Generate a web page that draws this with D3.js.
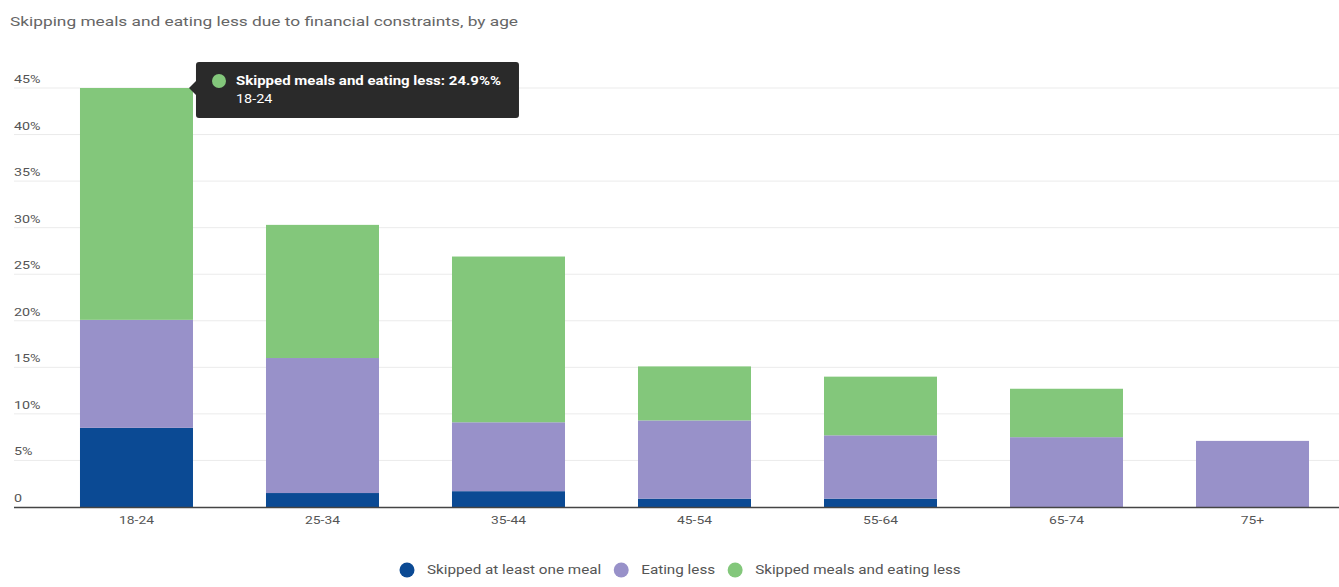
<!DOCTYPE html>
<html>
<head>
<meta charset="utf-8">
<script src="https://cdn.jsdelivr.net/npm/d3@7"></script>
<style>
  body { margin: 0; background: #fff; font-family: Roboto, "Noto Sans", sans-serif; }
</style>
</head>
<body>
<svg id="chart" width="1339" height="587"></svg>
<script>
// data
var ages = ["18-24", "25-34", "35-44", "45-54", "55-64", "65-74", "75+"];
var skippedMeal = [8.5, 1.5, 1.7, 0.9, 0.9, 0, 0];
var eatingLess = [11.6, 14.5, 7.4, 8.4, 6.8, 7.5, 7.1];
var skippedAndLess = [24.9, 14.3, 17.8, 5.8, 6.3, 5.2, 0];
var seriesNames = ["Skipped at least one meal", "Eating less", "Skipped meals and eating less"];
var yTicks = [0, 5, 10, 15, 20, 25, 30, 35, 40, 45];

var colors = ["#0b4a94", "#9891c9", "#83c77b"];

const width = 1339;
const height = 587;
const margin = {top: 88, bottom: 80, left: 14, right: 0};

var svg = d3.select("#chart");

// the source text is drawn wide, stretch glyphs to match
function stretch(sel, f) {
	sel.each(function() {
		var w = this.getComputedTextLength();
		d3.select(this)
			.attr("textLength", w * f)
			.attr("lengthAdjust", "spacingAndGlyphs");
	});
}

// title
svg.append("text")
	.attr("x", 10)
	.attr("y", 26)
	.attr("fill", "#666")
	.attr("font-size", 13)
	.text("Skipping meals and eating less due to financial constraints, by age")
	.call(stretch, 1.33);

var rows = ages.map(function(a, i) {
	return {age: a, s0: skippedMeal[i], s1: eatingLess[i], s2: skippedAndLess[i]};
});
var stacked = d3.stack().keys(["s0", "s1", "s2"])(rows);

var x = d3.scaleBand()
	.domain(ages)
	.range([margin.left, width - margin.right])
	.paddingInner(0.3925)
	.paddingOuter(0.258)
	.align(0.6875);

var y = d3.scaleLinear()
	.domain([0, 45])
	.range([height - margin.bottom, margin.top]);

// gridlines + y labels
var grid = svg.append("g");
grid.selectAll("line")
	.data(yTicks.slice(1))
	.enter().append("line")
		.attr("x1", margin.left)
		.attr("x2", width)
		.attr("y1", d => y(d))
		.attr("y2", d => y(d))
		.attr("stroke", "#ebebeb")
		.attr("stroke-width", 1);
grid.selectAll("text")
	.data(yTicks)
	.enter().append("text")
		.attr("x", 14)
		.attr("y", d => y(d) - 5)
		.attr("fill", "#555")
		.attr("font-size", 11)
		.text(d => d === 0 ? "0" : d + "%")
		.call(stretch, 1.3);

// bars
svg.append("g").selectAll("g")
	.data(stacked)
	.enter().append("g")
		.attr("fill", (d, i) => colors[i])
	.selectAll("rect")
	.data(d => d)
	.enter().append("rect")
		.attr("x", d => x(d.data.age))
		.attr("width", x.bandwidth())
		.attr("y", d => y(d[1]))
		.attr("height", d => y(d[0]) - y(d[1]));

// baseline
svg.append("line")
	.attr("x1", margin.left)
	.attr("x2", width)
	.attr("y1", y(0) + 0.5)
	.attr("y2", y(0) + 0.5)
	.attr("stroke", "#444")
	.attr("stroke-width", 1.5);

// x axis labels
var xAxis = d3.axisBottom(x).tickSize(0).tickPadding(9);
svg.append("g")
	.attr("transform", "translate(0," + y(0) + ")")
	.call(xAxis)
	.call(g => g.select(".domain").remove())
	.selectAll("text")
		.attr("fill", "#555")
		.attr("font-size", 11)
		.attr("font-family", "Roboto, sans-serif")
		.call(stretch, 1.26);

// legend
var legend = svg.append("g").attr("transform", "translate(0,570)");
var lx = 407;
seriesNames.forEach(function(name, i) {
	legend.append("circle")
		.attr("cx", lx)
		.attr("r", 7.5)
		.attr("fill", colors[i]);
	var t = legend.append("text")
		.attr("x", lx + 20)
		.attr("y", 4)
		.attr("fill", "#555")
		.attr("font-size", 12)
		.text(name)
		.call(stretch, 1.27);
	lx = lx + 20 + +t.attr("textLength") + 20;
});

// tooltip on 18-24 top segment
var tipX = x(ages[0]) + x.bandwidth() + 3;
var tipY = y(45);
var tip = svg.append("g");
tip.append("rect")
	.attr("x", tipX)
	.attr("y", tipY - 26)
	.attr("width", 323)
	.attr("height", 56)
	.attr("rx", 3)
	.attr("fill", "#2a2a2a");
tip.append("path")
	.attr("d", "M" + tipX + "," + (tipY - 7) + "L" + (tipX - 7) + "," + tipY + "L" + tipX + "," + (tipY + 7) + "Z")
	.attr("fill", "#2a2a2a");
tip.append("circle")
	.attr("cx", tipX + 23)
	.attr("cy", tipY - 7)
	.attr("r", 7)
	.attr("fill", colors[2]);
tip.append("text")
	.attr("x", tipX + 40)
	.attr("y", tipY - 3)
	.attr("fill", "#fff")
	.attr("font-size", 12)
	.attr("font-weight", "bold")
	.text(seriesNames[2] + ": " + skippedAndLess[0] + "%%")
	.call(stretch, 1.25);
tip.append("text")
	.attr("x", tipX + 40)
	.attr("y", tipY + 15)
	.attr("fill", "#fff")
	.attr("font-size", 12)
	.text(ages[0])
	.call(stretch, 1.2);
</script>
</body>
</html>
